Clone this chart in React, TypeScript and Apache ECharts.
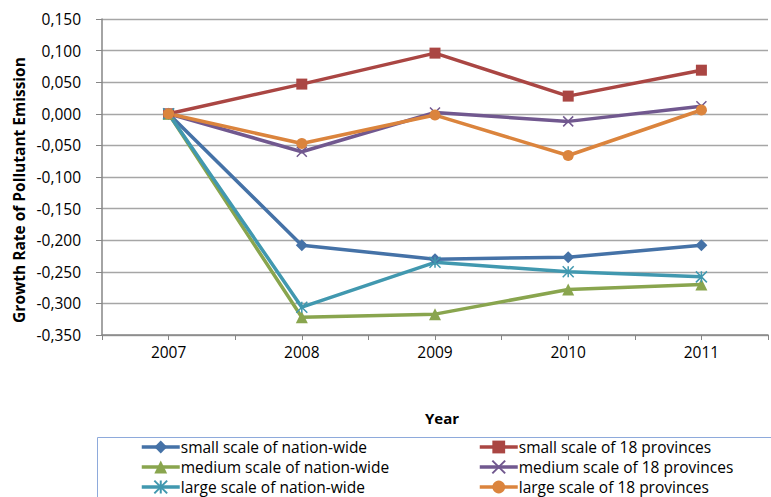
import React, { useEffect, useRef } from 'react';
import * as echarts from 'echarts';

const years = ['2007', '2008', '2009', '2010', '2011'];
const smallNation = [0, -0.208, -0.23, -0.227, -0.208];
const small18 = [0, 0.047, 0.096, 0.028, 0.069];
const mediumNation = [0, -0.322, -0.317, -0.278, -0.27];
const medium18 = [0, -0.06, 0.002, -0.012, 0.012];
const largeNation = [0, -0.306, -0.235, -0.25, -0.258];
const large18 = [0, -0.047, -0.002, -0.066, 0.006];

const seriesNames = [
  'small scale of nation-wide',
  'small scale of 18 provinces',
  'medium scale of nation-wide',
  'medium scale of 18 provinces',
  'large scale of nation-wide',
  'large scale of 18 provinces',
];

const FONT = '"Open Sans", sans-serif';
const CROSS = 'path://M0,0L10,10M10,0L0,10';
const STAR = 'path://M5,0L5,10M0,0L10,10M10,0L0,10';

function mk(name: string, values: number[], color: string, symbol: string, size: number, stroke = false) {
  return {
    name,
    type: 'line',
    data: values.map((v, i) => [i, v]),
    symbol,
    symbolSize: size,
    showAllSymbol: true,
    lineStyle: { color, width: 3.5 },
    itemStyle: stroke
      ? { color: 'rgba(0,0,0,0)', borderColor: color, borderWidth: 1.5 }
      : { color, borderColor: color, borderWidth: 0 },
    emphasis: { disabled: true },
  };
}

export default function App() {
  const ref = useRef<HTMLDivElement>(null);
  useEffect(() => {
    document.body.style.margin = '0';
    const chart = echarts.init(ref.current!, null, { renderer: 'svg' });
    const legendCommon = {
      orient: 'vertical',
      top: 439,
      height: 90,
      padding: 0,
      itemWidth: 38,
      itemHeight: 16,
      itemGap: 4,
      selectedMode: false,
      lineStyle: { width: 3.5 },
      textStyle: { fontFamily: FONT, fontSize: 15.5, color: '#000', padding: [0, 0, 0, -4] },
    };
    chart.setOption({
      animation: false,
      backgroundColor: '#fff',
      grid: { left: 102, top: 19, width: 682, height: 316, containLabel: false },
      xAxis: {
        type: 'value',
        min: -0.5,
        max: 4.5,
        interval: 0.5,
        splitLine: { show: false },
        axisLine: { show: true, onZero: false, lineStyle: { color: '#868686', width: 1.5 } },
        axisTick: { show: true, length: 5, lineStyle: { color: '#868686' } },
        axisLabel: {
          margin: 9,
          fontFamily: FONT,
          fontSize: 15.5,
          color: '#000',
          formatter: (v: number) => (Number.isInteger(v) && v >= 0 && v < years.length ? years[v] : ''),
        },
      },
      yAxis: {
        type: 'value',
        min: -0.35,
        max: 0.15,
        interval: 0.05,
        splitLine: { show: true, lineStyle: { color: '#A6A6A6', width: 1.3 } },
        axisLine: { show: true, onZero: false, lineStyle: { color: '#868686', width: 1.5 } },
        axisTick: { show: true, length: 6, lineStyle: { color: '#868686' } },
        axisLabel: {
          margin: 21,
          fontFamily: FONT,
          fontSize: 15.5,
          color: '#000',
          formatter: (v: number) => (Math.abs(v) < 1e-9 ? 0 : v).toFixed(3).replace('.', ','),
        },
      },
      legend: [
        { ...legendCommon, left: 140, data: [seriesNames[0], seriesNames[2], seriesNames[4]] },
        { ...legendCommon, left: 478, data: [seriesNames[1], seriesNames[3], seriesNames[5]] },
      ],
      graphic: [
        {
          type: 'rect',
          shape: { x: 97.5, y: 437.5, width: 800, height: 100 },
          style: { fill: 'none', stroke: '#8EAADB', lineWidth: 1 },
          silent: true,
        },
        {
          type: 'text',
          x: 19,
          y: 190,
          rotation: Math.PI / 2,
          style: {
            text: 'Growth Rate of Pollutant Emission',
            font: 'bold 15.5px "Open Sans", sans-serif',
            fill: '#000',
            align: 'center',
            verticalAlign: 'middle',
          },
        },
        {
          type: 'text',
          x: 442,
          y: 418,
          style: {
            text: 'Year',
            font: 'bold 15px "Open Sans", sans-serif',
            fill: '#000',
            align: 'center',
            verticalAlign: 'middle',
          },
        },
      ],
      series: [
        mk(seriesNames[0], smallNation, '#4572A7', 'diamond', 12),
        mk(seriesNames[1], small18, '#AA4643', 'rect', 11),
        mk(seriesNames[2], mediumNation, '#89A54E', 'triangle', 12),
        mk(seriesNames[3], medium18, '#71588F', CROSS, 10, true),
        mk(seriesNames[4], largeNation, '#4198AF', STAR, 11, true),
        mk(seriesNames[5], large18, '#DB843D', 'circle', 11),
      ],
    });
    return () => chart.dispose();
  }, []);
  return <div ref={ref} style={{ width: 771, height: 497 }} />;
}
